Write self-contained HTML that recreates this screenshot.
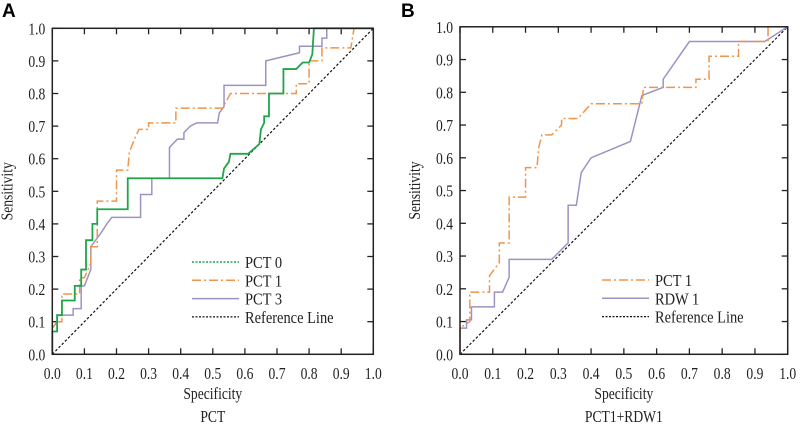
<!DOCTYPE html>
<html><head><meta charset="utf-8"><style>
body{margin:0;background:#fff}
svg{display:block;font-family:"Liberation Serif",serif}
</style></head><body>
<svg id="s" width="800" height="425" viewBox="0 0 800 425">
<text x="2" y="17" font-family="Liberation Sans" font-weight="bold" font-size="19">A</text>
<text x="401" y="17" font-family="Liberation Sans" font-weight="bold" font-size="19">B</text>
</svg>
<script>
const ticks=[0,0.1,0.2,0.3,0.4,0.5,0.6,0.7,0.8,0.9,1.0];
const tickLabels=["0.0","0.1","0.2","0.3","0.4","0.5","0.6","0.7","0.8","0.9","1.0"];
const aPct0X=[0,0,0.015,0.015,0.03,0.03,0.07,0.07,0.09,0.09,0.105,0.105,0.125,0.125,0.14,0.14,0.235,0.235,0.53,0.535,0.55,0.555,0.61,0.645,0.65,0.66,0.66,0.675,0.675,0.72,0.72,0.76,0.78,0.8,0.81,0.815,1];
const aPct0Y=[0,0.07,0.07,0.12,0.12,0.165,0.165,0.21,0.21,0.26,0.26,0.35,0.35,0.40,0.40,0.445,0.445,0.54,0.54,0.57,0.59,0.615,0.615,0.645,0.69,0.71,0.73,0.73,0.80,0.80,0.875,0.875,0.895,0.895,0.92,1,1];
const aPct1X=[0,0,0.015,0.03,0.03,0.085,0.085,0.1,0.12,0.12,0.14,0.14,0.2,0.2,0.235,0.24,0.26,0.27,0.3,0.3,0.385,0.385,0.53,0.555,0.76,0.76,0.8,0.8,0.84,0.84,0.93,0.935,0.94,1];
const aPct1Y=[0,0.08,0.1,0.1,0.185,0.185,0.235,0.235,0.28,0.33,0.33,0.47,0.47,0.565,0.565,0.62,0.67,0.69,0.69,0.71,0.71,0.755,0.755,0.8,0.8,0.83,0.83,0.9,0.9,0.94,0.94,0.97,1,1];
const aPct3X=[0,0,0.015,0.015,0.065,0.065,0.09,0.09,0.1,0.12,0.12,0.15,0.17,0.185,0.275,0.275,0.31,0.31,0.365,0.365,0.39,0.41,0.41,0.43,0.45,0.515,0.52,0.535,0.535,0.665,0.665,0.77,0.77,0.84,0.84,0.855,0.855,1];
const aPct3Y=[0,0.08,0.1,0.12,0.12,0.14,0.14,0.21,0.21,0.26,0.33,0.37,0.4,0.42,0.42,0.49,0.49,0.54,0.54,0.635,0.66,0.66,0.68,0.7,0.71,0.71,0.74,0.76,0.825,0.825,0.9,0.925,0.945,0.945,0.97,0.97,1,1];
const bPct1X=[0,0,0.03,0.03,0.09,0.09,0.12,0.12,0.15,0.15,0.2,0.2,0.235,0.24,0.25,0.28,0.31,0.31,0.36,0.4,0.555,0.56,0.72,0.72,0.76,0.76,0.85,0.85,0.94,0.94,1];
const bPct1Y=[0,0.08,0.1,0.19,0.19,0.24,0.28,0.34,0.34,0.48,0.48,0.57,0.57,0.63,0.67,0.67,0.7,0.72,0.72,0.765,0.765,0.815,0.815,0.84,0.84,0.91,0.91,0.955,0.955,1,1];
const bRdwX=[0,0,0.02,0.02,0.035,0.035,0.105,0.105,0.13,0.15,0.15,0.28,0.33,0.33,0.355,0.37,0.4,0.52,0.555,0.62,0.62,0.7,0.93,1];
const bRdwY=[0,0.08,0.08,0.105,0.105,0.145,0.145,0.19,0.19,0.235,0.29,0.29,0.34,0.455,0.455,0.555,0.6,0.65,0.79,0.815,0.84,0.955,0.955,1];

const NS="http://www.w3.org/2000/svg";
const svg=document.getElementById('s');
function mk(t,a,p){const e=document.createElementNS(NS,t);for(const k in a)e.setAttribute(k,a[k]);(p||svg).appendChild(e);return e;}
function sc(x,f){return `translate(${x},0) scale(${f},1) translate(${-x},0)`;}
function panel(id,x0,x1,y0,y1,title,series,legend){
  const g=mk('g',{});
  
  
  const sx=v=>x0+v*(x1-x0), sy=v=>y0-v*(y0-y1);
  ticks.forEach((t,i)=>{
    const tx=mk('line',{x1:sx(t),x2:sx(t),y1:y0,y2:y0-6,stroke:'#222','stroke-width':1.3},g);
    
    
    mk('line',{x1:sx(t),x2:sx(t),y1:y1,y2:y1+6,stroke:'#222','stroke-width':1.3},g);
    const ty=mk('line',{x1:x0,x2:x0+6,y1:sy(t),y2:sy(t),stroke:'#222','stroke-width':1.3},g);
    
    
    mk('line',{x1:x1,x2:x1-6,y1:sy(t),y2:sy(t),stroke:'#222','stroke-width':1.3},g);
    const lx=mk('text',{x:sx(t),y:379,'text-anchor':'middle','font-size':17,fill:'#222',transform:sc(sx(t),0.8)},g);
    lx.textContent=tickLabels[i];
    
    
    const ly=mk('text',{x:x0-7,y:sy(t)+6,'text-anchor':'end','font-size':17,fill:'#222',transform:sc(x0-7,0.8)},g);
    ly.textContent=tickLabels[i];
    
    
  });
  const ref=mk('line',{x1:sx(0),y1:sy(0),x2:sx(1),y2:sy(1),stroke:'#111','stroke-width':1.2,'stroke-dasharray':'2.5,2'},g);
  
  
  series.forEach(s=>{
    const pts=s.x.map((v,i)=>sx(v)+','+sy(s.y[i])).join(' ');
    const a={points:pts,fill:'none',stroke:s.c,'stroke-width':s.w};
    if(s.d)a['stroke-dasharray']=s.d;
    const p=mk('polyline',a,g);
    
    
  });
  const fr=mk('rect',{x:x0,y:y1,width:x1-x0,height:y0-y1,fill:'none',stroke:'#222','stroke-width':1.5},g);
  
  
  const cx=(x0+x1)/2;
  const xt=mk('text',{x:cx,y:399,'text-anchor':'middle','font-size':17,fill:'#222',transform:sc(cx,0.8)},g);
  xt.textContent='Specificity';
  
  
  const yt=mk('text',{x:0,y:0,'text-anchor':'middle','font-size':17,fill:'#222',transform:`translate(${x0-40},${(y0+y1)/2}) rotate(-90) scale(0.8,1)`},g);
  yt.textContent='Sensitivity';
  
  
  const st=mk('text',{x:cx,y:422,'text-anchor':'middle','font-size':17,fill:'#222',transform:sc(cx,0.8)},g);
  st.textContent=title;
  
  
  legend.items.forEach((it,i)=>{
    const y=legend.y+i*18.3;
    const a={x1:legend.x,x2:legend.x+47,y1:y,y2:y,stroke:it.c,'stroke-width':it.w};
    if(it.d)a['stroke-dasharray']=it.d;
    const l=mk('line',a,g);
    
    
    const t=mk('text',{x:legend.x+53,y:y+6,'font-size':17,fill:'#222',transform:sc(legend.x+53,0.85)},g);
    t.textContent=it.t;
    
    
  });
}
const G='#1fa64a',O='#f0954a',P='#9d93c3';
panel('panel-a',52.3,373.3,354.3,28.3,'PCT',[
  {n:'pct3-curve',x:aPct3X,y:aPct3Y,c:P,w:1.5},
  {n:'pct1-curve',x:aPct1X,y:aPct1Y,c:O,w:1.5,d:'9,3,2,3'},
  {n:'pct0-curve',x:aPct0X,y:aPct0Y,c:G,w:1.8}
],{x:192,y:262,items:[{t:'PCT 0',c:G,w:1.4,d:'2,1.5'},{t:'PCT 1',c:O,w:1.5,d:'9,3,2,3'},{t:'PCT 3',c:P,w:1.5},{t:'Reference Line',c:'#111',w:1.2,d:'2,1.5'}]});
panel('panel-b',460,787.7,354.3,26.8,'PCT1+RDW1',[
  {n:'rdw1-curve',x:bRdwX,y:bRdwY,c:P,w:1.5},
  {n:'pct1-curve',x:bPct1X,y:bPct1Y,c:O,w:1.5,d:'9,3,2,3'}
],{x:602,y:280,items:[{t:'PCT 1',c:O,w:1.5,d:'9,3,2,3'},{t:'RDW 1',c:P,w:1.5},{t:'Reference Line',c:'#111',w:1.2,d:'2,1.5'}]});
</script>
</body></html>
